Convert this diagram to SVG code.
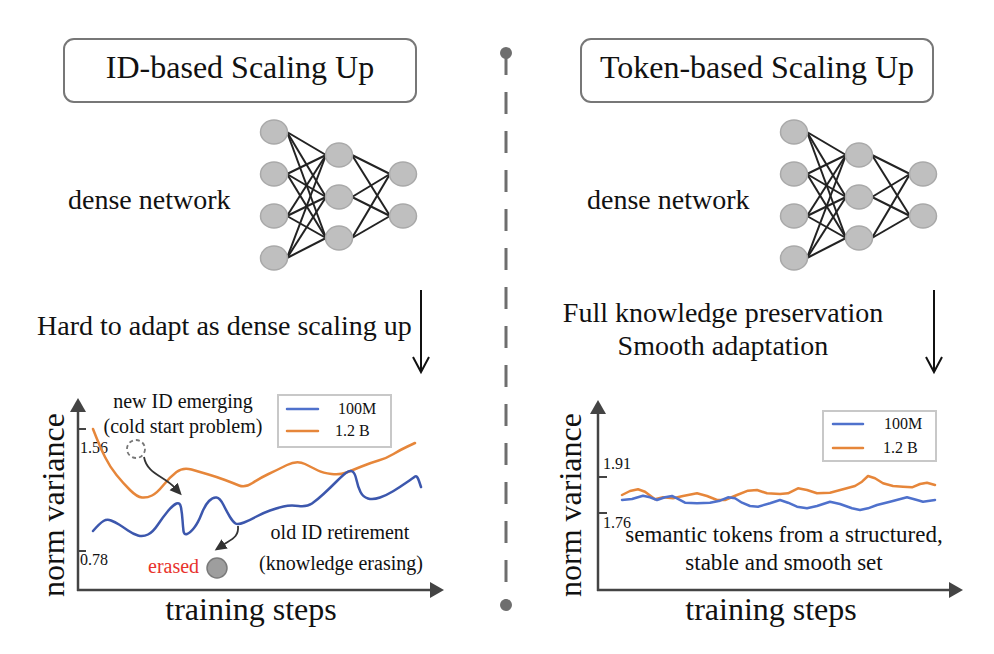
<svg xmlns="http://www.w3.org/2000/svg" width="994" height="654" viewBox="0 0 994 654">
  <defs>
    <style>
      text { font-family: "Liberation Serif", "Times New Roman", serif; fill: #111; }
      .title { font-size: 32px; text-anchor: middle; }
      .big { font-size: 28px; }
      .mid { text-anchor: middle; }
      .axlabel { font-size: 32px; text-anchor: middle; }
      .tick { font-size: 16px; }
      .leg { font-size: 16px; }
      .ann { font-size: 20px; text-anchor: middle; }
      .ann2 { font-size: 23px; text-anchor: middle; }
      .box { fill: #fff; stroke: #777; stroke-width: 2; }
      .node { fill: #bfbfbf; stroke: #a9a9a9; stroke-width: 1.5; }
      .edge { stroke: #222; stroke-width: 2; }
      .axis { stroke: #444; stroke-width: 2.5; fill: none; marker-end: url(#axisHead); }
      .legbox { fill: #fff; stroke: #c8c8c8; stroke-width: 2; }
      .blue { fill: none; stroke: #3c57ad; stroke-width: 2.5; stroke-linejoin: round; stroke-linecap: round; }
      .blue2 { fill: none; stroke: #4f71cc; stroke-width: 2.5; stroke-linejoin: round; stroke-linecap: round; }
      .orange { fill: none; stroke: #e6863a; stroke-width: 2.5; stroke-linejoin: round; stroke-linecap: round; }
      .down { fill: none; stroke: #111; stroke-width: 2; }
      .annarrow { fill: none; stroke: #333; stroke-width: 1.8; marker-end: url(#annHead); }
    </style>
    <marker id="axisHead" markerWidth="16" markerHeight="16" refX="0" refY="8" orient="auto" markerUnits="userSpaceOnUse">
      <path d="M0,0 L14,8 L0,16 z" fill="#444"/>
    </marker>
    <marker id="annHead" markerWidth="14" markerHeight="12" refX="2" refY="5.5" orient="auto" markerUnits="userSpaceOnUse">
      <path d="M0,0 L12,5.5 L0,11 z" fill="#333"/>
    </marker>
    <!-- dense network: 4-3-2 fully connected -->
    <g id="net">
      <g class="edges">
        <line class="edge" x1="287" y1="132" x2="326" y2="155"/>
        <line class="edge" x1="287" y1="132" x2="326" y2="197"/>
        <line class="edge" x1="287" y1="132" x2="326" y2="238"/>
        <line class="edge" x1="287" y1="174" x2="326" y2="155"/>
        <line class="edge" x1="287" y1="174" x2="326" y2="197"/>
        <line class="edge" x1="287" y1="174" x2="326" y2="238"/>
        <line class="edge" x1="287" y1="216" x2="326" y2="155"/>
        <line class="edge" x1="287" y1="216" x2="326" y2="197"/>
        <line class="edge" x1="287" y1="216" x2="326" y2="238"/>
        <line class="edge" x1="287" y1="258" x2="326" y2="155"/>
        <line class="edge" x1="287" y1="258" x2="326" y2="197"/>
        <line class="edge" x1="287" y1="258" x2="326" y2="238"/>
        <line class="edge" x1="352" y1="155" x2="390" y2="174"/>
        <line class="edge" x1="352" y1="155" x2="390" y2="216"/>
        <line class="edge" x1="352" y1="197" x2="390" y2="174"/>
        <line class="edge" x1="352" y1="197" x2="390" y2="216"/>
        <line class="edge" x1="352" y1="238" x2="390" y2="174"/>
        <line class="edge" x1="352" y1="238" x2="390" y2="216"/>
      </g>
      <ellipse class="node" cx="274" cy="132" rx="13.5" ry="12"/>
      <ellipse class="node" cx="274" cy="174" rx="13.5" ry="12"/>
      <ellipse class="node" cx="274" cy="216" rx="13.5" ry="12"/>
      <ellipse class="node" cx="274" cy="258" rx="13.5" ry="12"/>
      <ellipse class="node" cx="339" cy="155" rx="13.5" ry="12"/>
      <ellipse class="node" cx="339" cy="197" rx="13.5" ry="12"/>
      <ellipse class="node" cx="339" cy="238" rx="13.5" ry="12"/>
      <ellipse class="node" cx="403" cy="174" rx="13.5" ry="12"/>
      <ellipse class="node" cx="403" cy="216" rx="13.5" ry="12"/>
    </g>
  </defs>

  <rect width="994" height="654" fill="#fff"/>

  <!-- centre divider -->
  <g id="divider">
    <line x1="506" y1="53" x2="506" y2="605" stroke="#6e6e6e" stroke-width="3" stroke-dasharray="22 17"/>
    <circle cx="506" cy="53" r="6" fill="#6e6e6e"/>
    <circle cx="506" cy="605" r="6" fill="#6e6e6e"/>
  </g>

  <!-- ===== left panel ===== -->
  <g id="title-id">
    <rect class="box" x="64" y="39" width="352" height="63" rx="10"/>
    <text class="title" x="240" y="78">ID-based Scaling Up</text>
  </g>
  <g id="net-id">
    <use href="#net"/>
    <text class="big" x="68" y="209">dense network</text>
  </g>
  <g id="step-id">
    <text class="big" x="37" y="335">Hard to adapt as dense scaling up</text>
    <line class="down" x1="421" y1="290" x2="421" y2="371"/>
    <polyline class="down" points="413,357 421,372 429,357"/>
  </g>

  <g id="chart-id">
    <line class="axis" x1="78" y1="591" x2="78" y2="412"/>
    <line class="axis" x1="77" y1="590" x2="430" y2="590"/>
    <line x1="78" y1="429" x2="86" y2="429" stroke="#444" stroke-width="2"/>
    <line x1="78" y1="551" x2="86" y2="551" stroke="#444" stroke-width="2"/>
    <text class="tick" x="80" y="453">1.56</text>
    <text class="tick" x="80" y="565">0.78</text>
    <text class="axlabel" transform="translate(64,505) rotate(-90)">norm variance</text>
    <text class="axlabel" x="251" y="620">training steps</text>

    <path class="orange" d="M93,429 Q100,447 105,457 Q110,467 116.5,475 Q123,483 130,490 Q137,497 142,497.5 Q147,498 152,495.5 Q157,493 163.5,485 Q170,477 176.5,472 Q183,467 191.5,469.5 Q200,472 208.5,474.5 Q217,477 225,480 Q233,483 239,485.5 Q245,488 252.5,483 Q260,478 268.5,474 Q277,470 287,465 Q297,460 305,464 Q313,468 318,470.5 Q323,473 331.5,474 Q340,475 346.5,472.5 Q353,470 361.5,466.5 Q370,463 378.5,460.5 Q387,458 393.5,454 Q400,450 407.5,446.5 L415,443"/>
    <path class="blue" d="M93,531 Q100,523 103.5,521 Q107,519 111,520.5 Q115,522 119,524.5 Q123,527 128,530.5 Q133,534 138,535.5 Q143,537 148,534.5 Q153,532 158,524.5 Q163,517 168,511 Q173,505 176.5,503.5 Q180,502 181,507.5 Q182,513 182.5,520 Q183,527 183.5,531 Q184,535 187,534 Q190,533 194,528 Q198,523 201.5,514 Q205,505 209,501 Q213,497 216.5,497.5 Q220,498 223.5,505 Q227,512 230,517 Q233,522 235.5,523.5 Q238,525 244,522.5 Q250,520 256.5,516.5 Q263,513 270,510.5 Q277,508 283.5,506.5 Q290,505 298.5,506 Q307,507 312,503.5 Q317,500 323.5,494 Q330,488 336.5,481.5 Q343,475 346.5,472.5 Q350,470 352.5,471.5 Q355,473 356.5,480 Q358,487 360.5,492 Q363,497 368,498.5 Q373,500 380,497.5 Q387,495 393.5,491 Q400,487 406.5,482.5 Q413,478 415,476.5 Q417,475 419,481 L421,487"/>

    <g id="legend-id">
      <rect class="legbox" x="278" y="395" width="113" height="52"/>
      <line class="blue2" x1="287" y1="409" x2="318" y2="409"/>
      <line class="orange" x1="287" y1="431" x2="318" y2="431"/>
      <text class="leg" x="338" y="414">100M</text>
      <text class="leg" x="335" y="436">1.2 B</text>
    </g>

    <g id="new-id">
      <text class="ann" x="183" y="408">new ID emerging</text>
      <text class="ann" x="183" y="433">(cold start problem)</text>
      <circle cx="136" cy="449" r="9" fill="none" stroke="#777" stroke-width="1.8" stroke-dasharray="4 3"/>
      <path class="annarrow" d="M144,457 C147,474 164,476 175,488"/>
    </g>
    <g id="old-id">
      <text class="ann" x="340" y="539">old ID retirement</text>
      <text class="ann" x="341" y="570">(knowledge erasing)</text>
      <path class="annarrow" d="M238,526 C239,537 232,539 223,545"/>
      <circle cx="217" cy="568" r="10" fill="#9e9e9e" stroke="#7a7a7a" stroke-width="1.5"/>
      <text x="148" y="573" font-size="20" style="fill:#e8322c">erased</text>
    </g>
  </g>

  <!-- ===== right panel ===== -->
  <g id="title-token">
    <rect class="box" x="581" y="39" width="352" height="63" rx="10"/>
    <text class="title" x="757" y="78">Token-based Scaling Up</text>
  </g>
  <g id="net-token">
    <use href="#net" x="520"/>
    <text class="big" x="587" y="209">dense network</text>
  </g>
  <g id="step-token">
    <text class="big mid" x="723" y="322">Full knowledge preservation</text>
    <text class="big mid" x="723" y="355">Smooth adaptation</text>
    <line class="down" x1="934" y1="290" x2="934" y2="371"/>
    <polyline class="down" points="926,357 934,372 942,357"/>
  </g>

  <g id="chart-token">
    <line class="axis" x1="598" y1="591" x2="598" y2="414"/>
    <line class="axis" x1="597" y1="590" x2="949" y2="590"/>
    <line x1="598" y1="477" x2="607" y2="477" stroke="#444" stroke-width="2"/>
    <line x1="598" y1="513" x2="607" y2="513" stroke="#444" stroke-width="2"/>
    <text class="tick" x="603" y="469">1.91</text>
    <text class="tick" x="603" y="528">1.76</text>
    <text class="axlabel" transform="translate(581,505) rotate(-90)">norm variance</text>
    <text class="axlabel" x="771" y="620">training steps</text>

    <polyline class="orange" points="622,495 630,491 638,489.3 645,491.7 655,499.3 663,497.3 673,498.3 683,496 697,493.3 707,496 717,500 725,500 737,495 748,490.7 757,490 767,493.3 780,494 788,493.3 798,488.3 807,490 817,493.3 830,492.7 843,489.3 855,486 862,481.7 868,476 875,478.3 883,483.3 893,486 903,486.7 912,487.3 920,484 927,482.7 935,485"/>
    <polyline class="blue2" points="622,500 632,499 643,495.7 650,497.3 657,500 665,497.3 672,496 677,498.3 685,502.7 697,503.3 710,502.7 720,500.7 728,497.3 735,498.3 742,502.7 750,506 758,506.7 770,503.3 780,500 788,502.7 797,506.7 807,508.3 817,506 830,501.7 840,504 852,508.3 860,510 868,508.3 877,505 890,501.7 907,497.3 917,500 923,501.7 935,500"/>

    <g id="legend-token">
      <rect class="legbox" x="823" y="411" width="113" height="50"/>
      <line class="blue2" x1="833" y1="424" x2="863" y2="424"/>
      <line class="orange" x1="833" y1="448" x2="863" y2="448"/>
      <text class="leg" x="884" y="429">100M</text>
      <text class="leg" x="883" y="453">1.2 B</text>
    </g>

    <text class="ann2" x="784" y="542">semantic tokens from a structured,</text>
    <text class="ann2" x="784" y="570">stable and smooth set</text>
  </g>
</svg>
